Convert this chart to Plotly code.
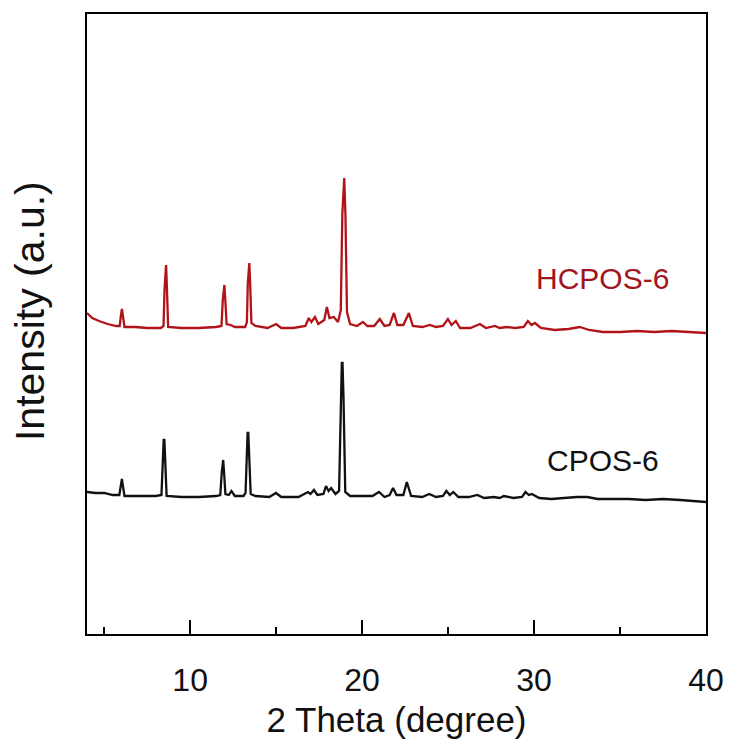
import plotly.graph_objects as go

# 2-theta (degree) and intensity (a.u.)
hcpos_x = [4.0, 4.3, 4.7, 5.2, 5.7, 5.9, 5.97, 6.03, 6.09, 6.18, 6.8, 7.5, 8.3, 8.45, 8.51, 8.56,
           8.6, 8.65, 8.72, 9.5, 10.5, 11.5, 11.82, 11.9, 11.95, 11.99, 12.04, 12.12, 12.35, 12.6,
           13.2, 13.3, 13.35, 13.4, 13.44, 13.49, 13.56, 13.8, 14.5, 15.0, 15.3, 16.0, 16.7, 16.9,
           17.05, 17.26, 17.45, 17.8, 17.95, 18.1, 18.35, 18.6, 18.76, 18.85, 18.92, 18.96, 19.03,
           19.12, 19.3, 19.7, 20.05, 20.3, 20.7, 21.03, 21.3, 21.6, 21.85, 22.05, 22.4, 22.72, 22.95,
           23.5, 23.94, 24.3, 24.7, 24.99, 25.2, 25.45, 25.7, 26.3, 26.85, 27.2, 27.72, 28.0, 28.4,
           28.9, 29.4, 29.64, 29.85, 30.05, 30.4, 31.2, 32.0, 32.66, 33.2, 34.0, 35.0, 36.0, 37.0,
           38.0, 39.0, 40.0]
hcpos_y = [321, 316, 313, 310, 308, 308, 318, 325, 318, 307, 307, 306, 306, 308, 345, 369,
           369, 345, 307, 306, 306, 307, 308, 335, 349, 349, 335, 310, 309, 307,
           307, 312, 350, 371, 371, 350, 311, 308, 306, 310, 306, 306, 308, 316,
           312, 317, 310, 314, 327, 316, 317, 312, 324, 420, 456, 456, 420, 322,
           310, 308, 312, 308, 308, 315, 308, 309, 321, 309, 309, 321, 308,
           307, 309, 307, 308, 315, 309, 313, 306, 306, 310, 306, 308, 306, 307,
           306, 307, 313, 309, 311, 306, 304, 305, 307, 304, 302, 302, 303, 302,
           303, 302, 301]

cpos_x = [4.0, 4.5, 5.0, 5.5, 5.88, 5.97, 6.03, 6.09, 6.18, 7.0, 8.0, 8.33, 8.41, 8.46, 8.5,
          8.55, 8.63, 9.5, 10.5, 11.5, 11.75, 11.84, 11.88, 11.92, 11.97, 12.05, 12.25, 12.4, 12.6,
          13.1, 13.22, 13.29, 13.34, 13.38, 13.43, 13.52, 13.8, 14.6, 14.99, 15.3, 16.3, 16.85,
          17.0, 17.2, 17.4, 17.75, 17.9, 18.05, 18.2, 18.45, 18.66, 18.76, 18.82, 18.86, 18.92,
          19.02, 19.3, 20.0, 20.6, 20.98, 21.3, 21.6, 21.8, 22.0, 22.4, 22.6, 22.85, 23.5, 23.9,
          24.3, 24.7, 24.9, 25.1, 25.3, 25.6, 26.2, 26.7, 27.1, 27.66, 28.0, 28.24, 28.8, 29.3,
          29.5, 29.7, 29.87, 30.3, 31.0, 31.7, 32.5, 33.1, 33.7, 34.5, 35.5, 36.5, 37.5, 38.5,
          39.3, 40.0]
cpos_y = [142, 141, 141, 139, 139, 148, 155, 148, 138, 138, 138, 139, 175, 194, 194,
          175, 138, 137, 137, 138, 139, 162, 174, 174, 162, 140, 139, 143, 138,
          138, 141, 180, 201, 201, 180, 140, 138, 137, 141, 137, 137, 142,
          140, 144, 139, 140, 148, 143, 146, 140, 143, 235, 271, 271, 235,
          142, 138, 138, 138, 142, 137, 139, 146, 139, 139, 152, 138, 137, 140,
          137, 138, 143, 139, 142, 137, 137, 139, 136, 137, 136, 138, 136, 137,
          142, 139, 140, 136, 135, 136, 137, 137, 135, 135, 135, 134, 135, 134,
          133, 132]

x_ticks = [10, 20, 30, 40]
x_minor = [5, 15, 25, 35]
series_names = ["HCPOS-6", "CPOS-6"]
label_pos_x = [34.0, 34.0]
label_pos_y = [356, 174]

red = "#b01418"
black = "#111111"
font = "Arial, Liberation Sans, sans-serif"

fig = go.Figure()
fig.add_trace(go.Scatter(x=hcpos_x, y=hcpos_y, mode="lines", name=series_names[0],
                         line=dict(color=red, width=2.3)))
fig.add_trace(go.Scatter(x=cpos_x, y=cpos_y, mode="lines", name=series_names[1],
                         line=dict(color=black, width=2.3)))

fig.add_annotation(x=label_pos_x[0], y=label_pos_y[0], text=series_names[0], showarrow=False,
                   font=dict(family=font, size=30, color="#a0161c"))
fig.add_annotation(x=label_pos_x[1], y=label_pos_y[1], text=series_names[1], showarrow=False,
                   font=dict(family=font, size=30, color="#111111"))
# y-axis title (placed as rotated text to match its position in the reference)
fig.add_annotation(x=-0.092, y=0.521, xref="paper", yref="paper", text="Intensity (a.u.)",
                   textangle=-90, showarrow=False, xanchor="center", yanchor="middle",
                   font=dict(family=font, size=41, color="#111111"))

fig.update_layout(
    width=730, height=747,
    margin=dict(l=87, r=24, t=14, b=113),
    paper_bgcolor="white", plot_bgcolor="white",
    showlegend=False,
    font=dict(family=font, color="#111111"),
)
fig.update_xaxes(
    range=[4, 40], tickvals=x_ticks, ticktext=[str(v) for v in x_ticks],
    ticks="inside", ticklen=14, tickwidth=2, tickcolor="black",
    minor=dict(tickvals=x_minor, ticks="inside", ticklen=7, tickwidth=2, tickcolor="black"),
    showline=True, linewidth=2, linecolor="black", mirror=True,
    showgrid=False, zeroline=False, automargin=False,
    ticklabelstandoff=17,
    tickfont=dict(family=font, size=32, color="#111111"),
    title=dict(text="2 Theta (degree)", font=dict(family=font, size=35, color="#111111"), standoff=10),
)
fig.update_yaxes(
    range=[0, 620], showticklabels=False, ticks="",
    showline=True, linewidth=2, linecolor="black", mirror=True,
    showgrid=False, zeroline=False, automargin=False,
)

fig.write_html("out.html", config={"displayModeBar": False},
               post_script="document.body.style.margin='0';document.body.style.overflow='hidden';")
